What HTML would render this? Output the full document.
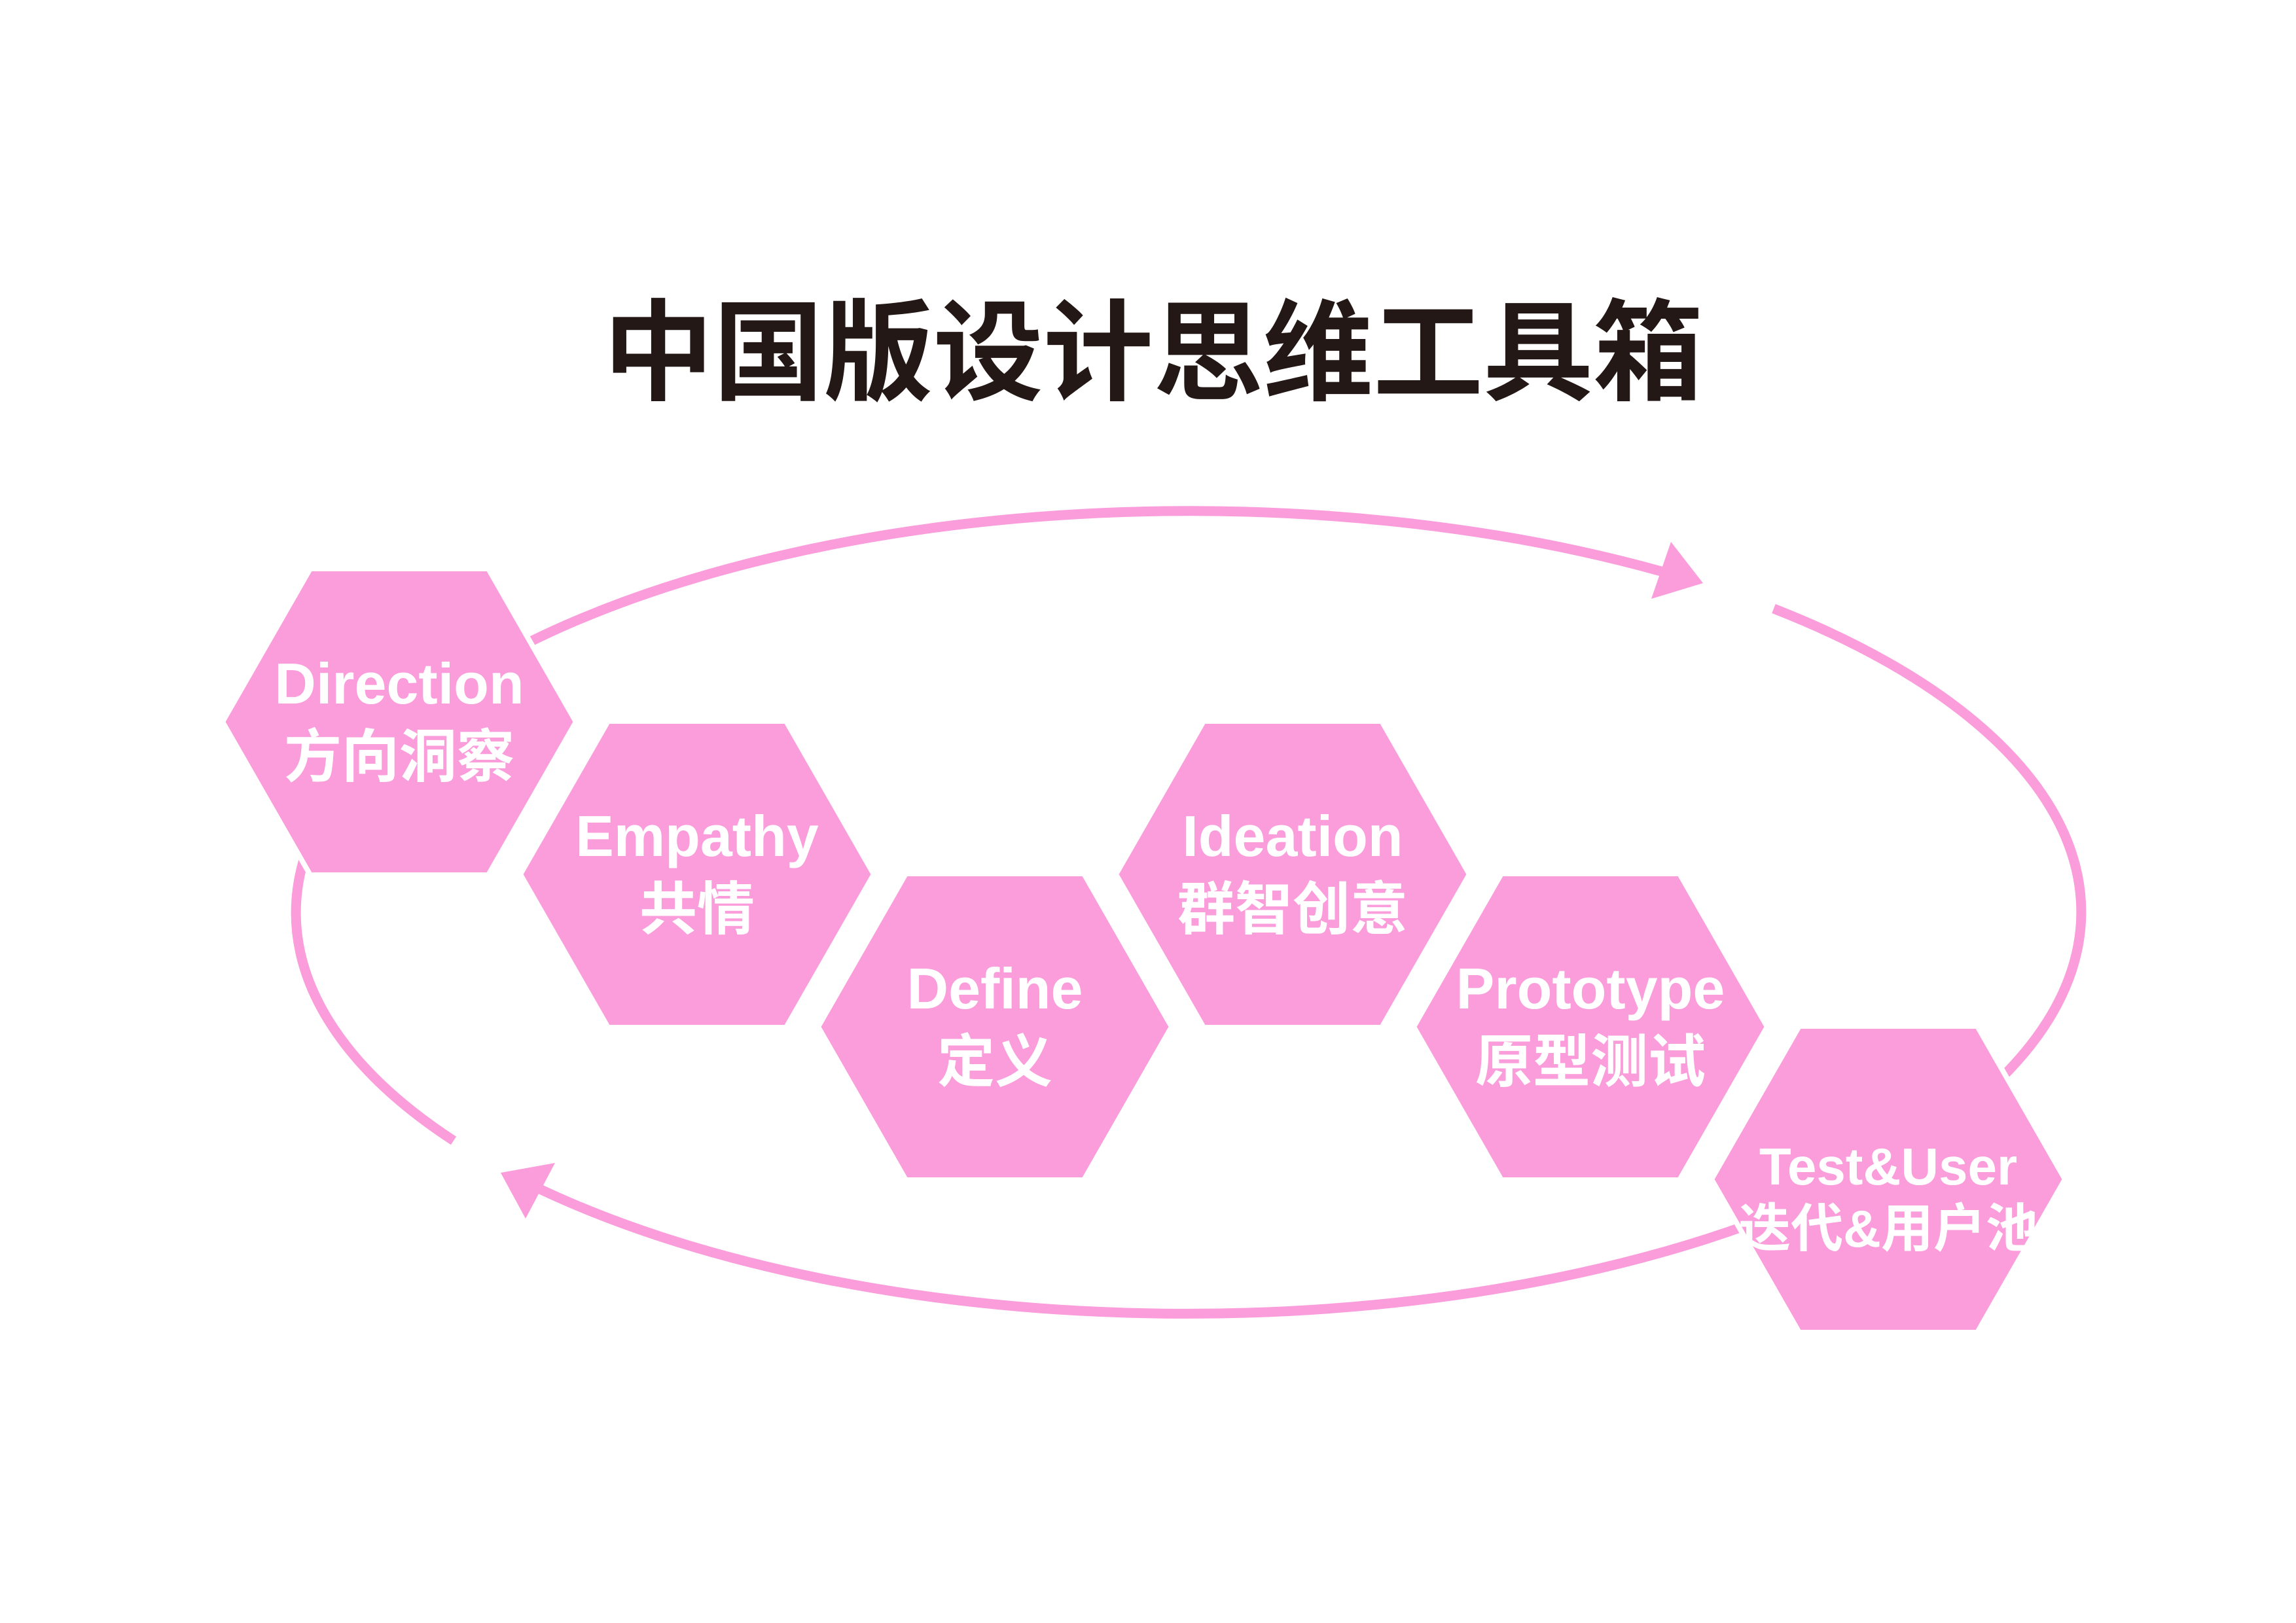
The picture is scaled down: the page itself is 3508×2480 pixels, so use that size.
<!DOCTYPE html>
<html><head><meta charset="utf-8"><style>
html,body{margin:0;padding:0;background:#fff;}
svg{display:block;}
</style></head><body>
<svg width="3508" height="2480" viewBox="0 0 3508 2480" xmlns="http://www.w3.org/2000/svg">
<rect width="3508" height="2480" fill="#fff"/>
<text x="1762" y="598" text-anchor="middle" font-family="'Liberation Sans','Noto Sans CJK SC',sans-serif" font-weight="bold" font-size="168" fill="#231815">中国版设计思维工具箱</text>
<g fill="none" stroke="#fb9cdb" stroke-width="15">
<path d="M 693 1743 A 1366 614 0 0 1 2538 873"/>
<path d="M 2710 930 A 1366 614 0 1 1 825 1817"/>
</g>
<polygon points="2602,891 2523,915 2553,828" fill="#fb9cdb"/>
<polygon points="765,1792 803,1862 848,1777" fill="#fb9cdb"/>
<g fill="#fb9cdb" stroke="#fff" stroke-width="8">
<polygon points="340,1103 474,869 746,869 880,1103 746,1337 474,1337"/>
<polygon points="795,1336 929,1102 1201,1102 1335,1336 1201,1570 929,1570"/>
<polygon points="1250,1569 1384,1335 1656,1335 1790,1569 1656,1803 1384,1803"/>
<polygon points="1705,1336 1839,1102 2111,1102 2245,1336 2111,1570 1839,1570"/>
<polygon points="2160,1569 2294,1335 2566,1335 2700,1569 2566,1803 2294,1803"/>
<polygon points="2615,1802 2749,1568 3021,1568 3155,1802 3021,2036 2749,2036"/>
</g>
<g font-family="'Liberation Sans','Noto Sans CJK SC',sans-serif" font-weight="bold" font-size="88" fill="#fff" text-anchor="middle">
<text x="610" y="1075">Direction</text><text x="610" y="1187">方向洞察</text>
<text x="1065" y="1308">Empathy</text><text x="1065" y="1420">共情</text>
<text x="1520" y="1541">Define</text><text x="1520" y="1653">定义</text>
<text x="1975" y="1308">Ideation</text><text x="1975" y="1420">群智创意</text>
<text x="2430" y="1541">Prototype</text><text x="2430" y="1653">原型测试</text>
<text x="2885" y="1810" font-size="80">Test&amp;User</text><text x="2885" y="1905" font-size="80">迭代&amp;用户池</text>
</g>
</svg>
</body></html>
